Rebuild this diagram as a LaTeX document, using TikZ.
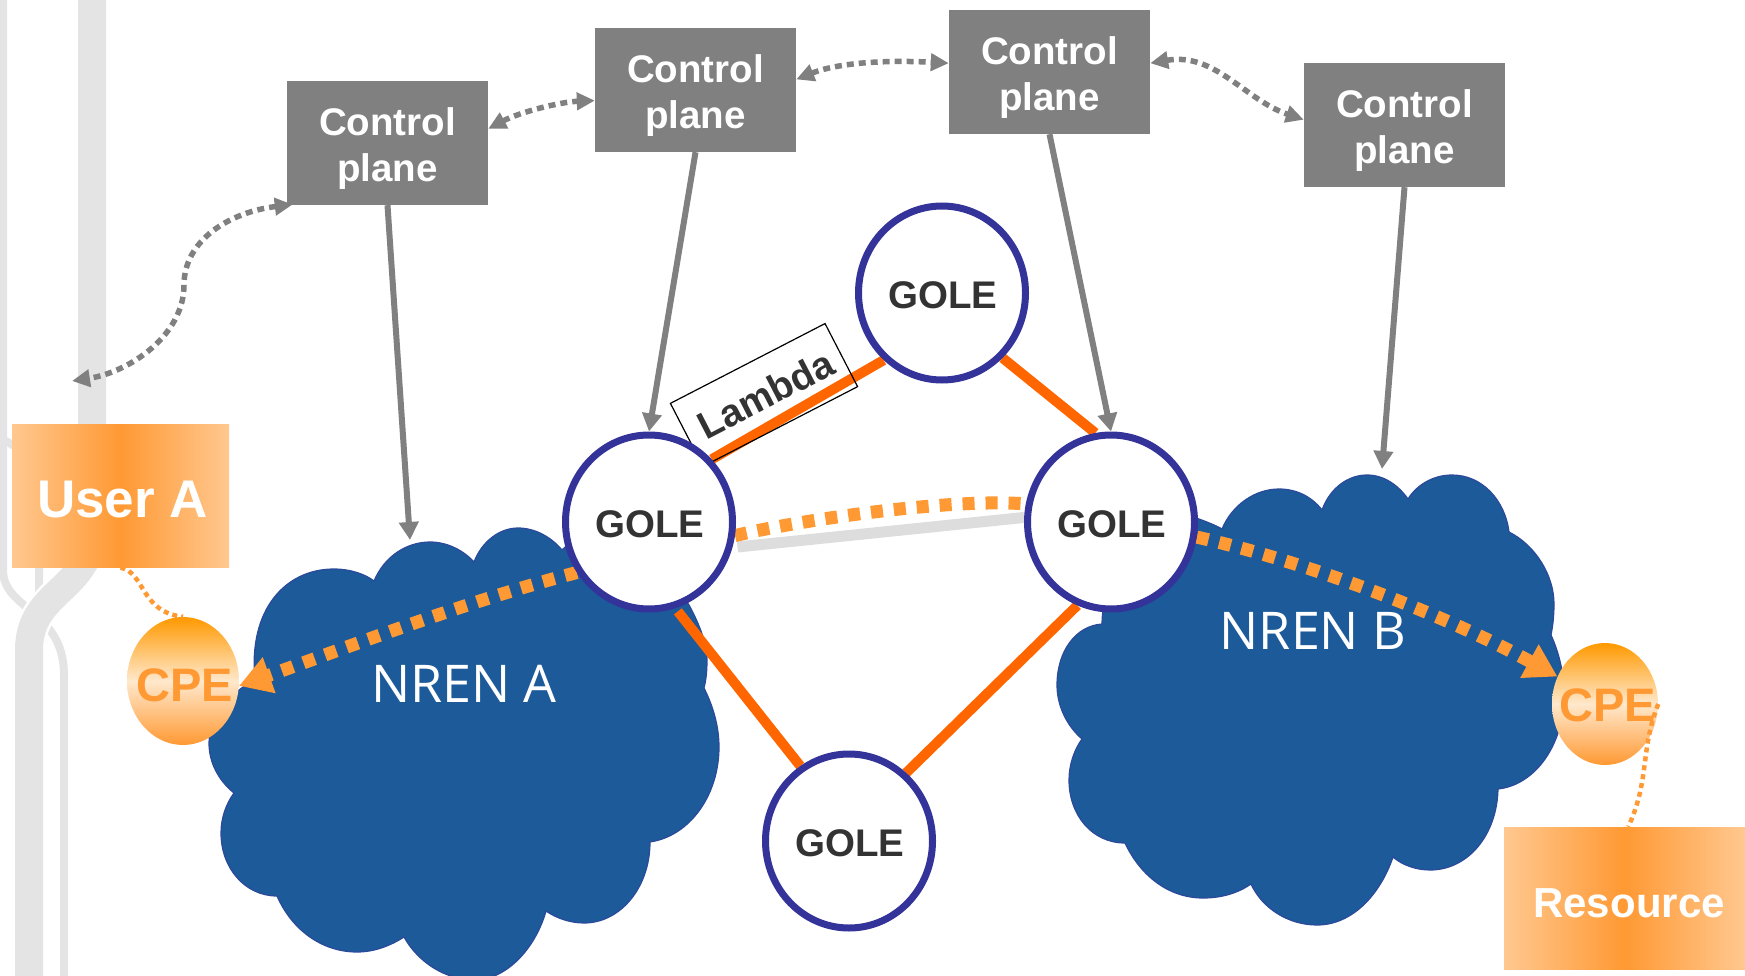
\documentclass[tikz,border=0pt]{standalone}
\usepackage{fontspec}
\setmainfont{Liberation Sans}
\newfontfamily\nrenfont{Open Sans}
\usetikzlibrary{arrows.meta,shapes.geometric,backgrounds}
\definecolor{cloudblue}{HTML}{1C5A9A}
\definecolor{cloudrim}{HTML}{2B4A9A}
\definecolor{golerim}{HTML}{333399}
\definecolor{lamorange}{HTML}{FF6600}
\definecolor{dotorange}{HTML}{FF9933}
\definecolor{topamber}{HTML}{FF9900}
\definecolor{paleamber}{HTML}{FFE8CC}
\definecolor{paleorange}{HTML}{FFC890}
\definecolor{ctrlgrey}{HTML}{808080}
\definecolor{trackgrey}{HTML}{E4E4E4}
\definecolor{lightgrey}{HTML}{DDDDDD}
\definecolor{textdark}{HTML}{333333}
\tikzset{
  ctrlbox/.style={fill=ctrlgrey,text=white,align=center,inner sep=0pt,minimum width=201pt,minimum height=124pt,font=\bfseries\fontsize{38.5}{46}\selectfont},
  gole/.style={ellipse,draw=golerim,fill=white,line width=7pt,minimum width=167pt,minimum height=174pt,inner sep=0pt,text=textdark,font=\bfseries\fontsize{38.5}{46}\selectfont},
  cpe/.style={ellipse,top color=topamber,bottom color=dotorange,middle color=paleamber,inner sep=0pt,text=dotorange,font=\bfseries\fontsize{47}{50}\selectfont},
  endbox/.style={rectangle,left color=paleorange,right color=paleorange,middle color=dotorange,text=white,inner sep=0pt,font=\bfseries},
  cloud/.style={fill=cloudblue,draw=cloudrim,line width=1.2pt},
  nren/.style={text=white,inner sep=0pt,font=\nrenfont\fontsize{52}{53}\selectfont},
  track/.style={trackgrey,line width=8pt},
  lambdaline/.style={lamorange,line width=10pt},
  dotflow/.style={dotorange,line width=13pt,dash pattern=on 12pt off 11pt},
  dotlink/.style={dotorange,line width=4.5pt,dash pattern=on 5pt off 4pt},
  ctrlflow/.style={ctrlgrey,line width=6pt,-{Triangle[length=18pt,width=19pt]}},
  ctrllink/.style={ctrlgrey,line width=5.5pt,dash pattern=on 7pt off 5pt,{Triangle[length=18pt,width=17pt]}-{Triangle[length=18pt,width=17pt]}}
}
\begin{document}
\begin{tikzpicture}[x=1pt,y=-1pt]
  \useasboundingbox (0,0) rectangle (1745,976);
  % die Knoten
  \foreach \name/\x/\y in {ctrlA/387.5/143, ctrlB/695.5/90, ctrlC/1049.5/72, ctrlD/1404.5/125}
    \node[ctrlbox] (\name) at (\x,\y) {\rule{0pt}{39pt}Control\\plane};
  \foreach \name/\x/\y in {goleL/649/522, goleT/942/293, goleR/1111/522, goleU/849/841}
    \node[gole] (\name) at (\x,\y) {\rule{0pt}{31pt}\hspace{2pt}GOLE};
  \node[cpe,minimum width=112pt,minimum height=128pt] (cpeA) at (183,681) {\makebox[0pt]{\rule{0pt}{41pt}\hspace{4pt}CPE}};
  \node[cpe,minimum width=106pt,minimum height=122pt] (cpeB) at (1605,704) {\makebox[0pt]{\rule{0pt}{36pt}\hspace{5pt}CPE}};
  \node[endbox,minimum width=217pt,minimum height=143pt,font=\bfseries\fontsize{53}{54}\selectfont] (userA) at (120.5,496) {\rule{0pt}{44pt}\hspace{4pt}User A};
  \node[endbox,minimum width=241pt,minimum height=142pt,font=\bfseries\fontsize{42}{44}\selectfont] (resource) at (1624.5,898) {\rule{0pt}{39pt}\hspace{9pt}Resource};
  \coordinate (nrenAtop) at (410,540);
  \coordinate (nrenBtop) at (1382,469);
  \coordinate (userTop) at (72,381);
  \begin{scope}[on background layer]
    % Hintergrund
    \draw[track] (3,0) -- (3,570) .. controls (3,610) and (64,610) .. (64,675) -- (64,976);
    \draw[track] (0,438) .. controls (20,448) and (39,460) .. (39,500) -- (39,600);
    \draw[trackgrey,line width=28pt,preaction={draw,white,line width=33pt}] (92,0) -- (92,530) .. controls (92,590) and (29,590) .. (29,650) -- (29,976);
    % die Wolken
    \draw[cloud] (374,581) .. controls (385,555) and (408,542) .. (430,542)
      .. controls (448,542) and (464,551) .. (474,562)
      .. controls (482,541) and (500,528) .. (518,528)
      .. controls (536,528) and (552,538) .. (562,550)
      .. controls (590,520) and (660,560) .. (689,605)
      .. controls (700,625) and (707,645) .. (707,660)
      .. controls (707,672) and (706,680) .. (704,688)
      .. controls (714,708) and (719,728) .. (719,747)
      .. controls (719,795) and (690,836) .. (650,842)
      .. controls (650,888) and (620,923) .. (584,923)
      .. controls (570,923) and (556,918) .. (546,911)
      .. controls (535,950) and (505,980) .. (475,980)
      .. controls (445,980) and (418,962) .. (404,937)
      .. controls (390,946) and (374,952) .. (357,952)
      .. controls (322,952) and (292,930) .. (277,896)
      .. controls (245,896) and (221,868) .. (221,833)
      .. controls (221,818) and (226,804) .. (234,793)
      .. controls (218,780) and (209,762) .. (209,743)
      .. controls (209,718) and (230,692) .. (255,680)
      .. controls (248,610) and (285,569) .. (334,569)
      .. controls (350,569) and (365,574) .. (374,581) -- cycle;
    \draw[cloud] (1222,529) .. controls (1232,505) and (1255,489) .. (1279,489)
      .. controls (1297,489) and (1312,497) .. (1322,510)
      .. controls (1330,488) and (1348,475) .. (1367,475)
      .. controls (1384,475) and (1398,485) .. (1408,499)
      .. controls (1416,486) and (1432,475) .. (1452,475)
      .. controls (1482,475) and (1505,500) .. (1509,532)
      .. controls (1535,545) and (1554,575) .. (1554,604)
      .. controls (1554,615) and (1553,625) .. (1551,635)
      .. controls (1560,655) and (1564,675) .. (1564,695)
      .. controls (1564,745) and (1535,785) .. (1498,789)
      .. controls (1497,835) and (1468,870) .. (1430,870)
      .. controls (1416,870) and (1402,865) .. (1393,857)
      .. controls (1380,895) and (1352,925) .. (1317,925)
      .. controls (1288,925) and (1262,908) .. (1251,884)
      .. controls (1238,893) and (1222,898) .. (1203,898)
      .. controls (1168,898) and (1140,875) .. (1125,843)
      .. controls (1092,843) and (1069,815) .. (1069,780)
      .. controls (1069,765) and (1074,750) .. (1082,739)
      .. controls (1066,725) and (1057,705) .. (1057,685)
      .. controls (1057,652) and (1075,626) .. (1102,624)
      .. controls (1102,570) and (1150,500) .. (1199,519)
      .. controls (1207,522) and (1215,525) .. (1222,529) -- cycle;
    \node[nren] (nrenA) at (464,684) {NREN A};
    \node[nren] (nrenB) at (1313,631) {NREN B};
    % Lambda-Verbindungen
    \draw[lambdaline] (goleL.45) -- (goleT.229);
    \draw[lambdaline] (goleT.313) -- (goleR.100);
    \draw[lambdaline,shorten <=4pt] (goleL.287) -- (goleU.123);
    \draw[lambdaline] (goleR.248) -- (goleU.50);
    \draw[lightgrey,line width=11pt,shorten <=5pt] (goleL.-17) -- (goleR.177);
    % gepunktete Pfade
    \draw[dotflow] (goleL.-9) .. controls (800,520) and (950,498) .. (goleR.168);
    \draw[dotflow,-{Triangle[length=32pt,width=36pt]}] (goleL.215) .. controls (470,600) and (340,650) .. (cpeA.-5);
    \draw[dotflow,-{Triangle[length=32pt,width=36pt]}] (goleR.-10) .. controls (1300,560) and (1440,612) .. (cpeB.150);
    % Lambda-Kasten
    \node[draw=black,line width=1.2pt,rotate=27.3,minimum width=174pt,minimum height=71pt,inner sep=0pt,text=textdark,font=\bfseries\fontsize{38.5}{40}\selectfont] (lambda) at (764,395) {\hspace{4pt}Lambda};
  \end{scope}
  \draw[dotlink] (userA.south) .. controls (145,572) and (140,612) .. (cpeA.north);
  \draw[dotlink] (cpeB.east) .. controls (1640,750) and (1650,780) .. (resource.87);
  % Steuerung
  \draw[ctrlflow] (ctrlA.south) -- (nrenAtop);
  \draw[ctrlflow] (ctrlB.south) -- (goleL.north);
  \draw[ctrlflow] (ctrlC.south) -- (goleR.north);
  \draw[ctrlflow] (ctrlD.south) -- (nrenBtop);
  \draw[ctrllink,shorten <=-6pt] (ctrlA.south west) .. controls (230,212) and (184,240) .. (184,285) .. controls (184,335) and (130,372) .. (userTop);
  \draw[ctrllink] (ctrlA.8.5) .. controls (520,112) and (560,102) .. (ctrlB.186);
  \draw[ctrllink] (ctrlB.6.5) .. controls (840,62) and (890,60) .. (ctrlC.175);
  \draw[ctrllink] (ctrlC.5) .. controls (1215,52) and (1245,100) .. (ctrlD.177);
\end{tikzpicture}
\end{document}
